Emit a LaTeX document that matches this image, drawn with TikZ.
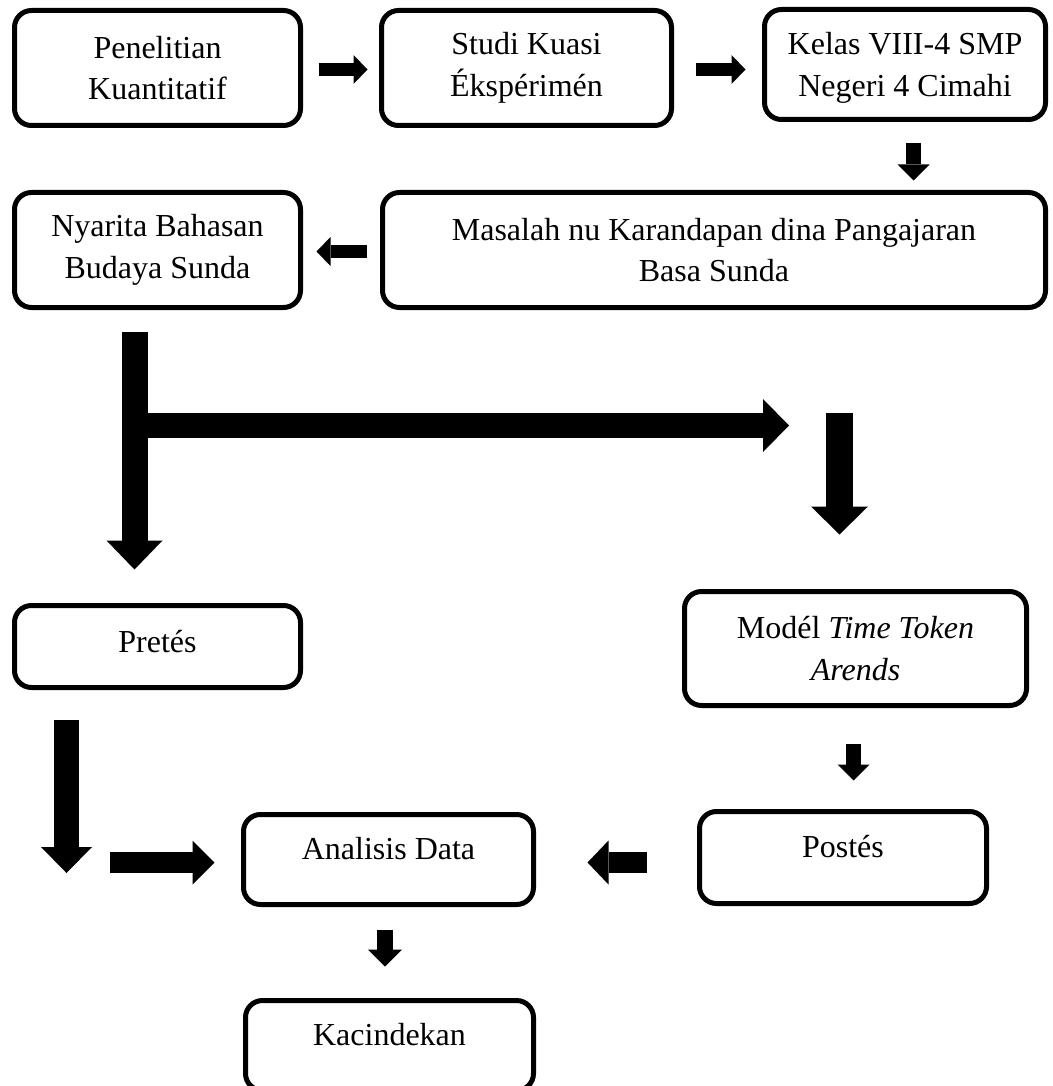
\documentclass[tikz,border=0pt]{standalone}
\usepackage{fontspec}
\setmainfont{Liberation Serif}
\usetikzlibrary{arrows.meta,calc}
\begin{document}
\begin{tikzpicture}[x=1pt,y=-1pt,
  box/.style={draw=black, line width=5pt, rounded corners=17pt, align=center, inner sep=0pt,
              font=\fontsize{32}{41.7}\selectfont},
  one/.style={text height=22pt, text depth=#1},
  ar/.style n args={3}{line width=#1, -{Triangle[width=#2,length=#3,line width=0pt]}},
]
\useasboundingbox (0,0) rectangle (1052,1086);
\clip (0,0) rectangle (1052,1086);
\fill[white] (0,0) rectangle (1052,1086);

% boxes
\node[box, minimum width=286pt, minimum height=115pt] (pen) at (157.5,68) {Penelitian\\Kuantitatif};
\node[box, minimum width=290pt, minimum height=115pt] (stu) at (526.5,68) {Studi Kuasi\\Ékspérimén};
\node[box, text depth=0pt, minimum width=281pt, minimum height=110pt] (kel) at (905,64.5) {Kelas VIII-4 SMP\\Negeri 4 Cimahi};
\node[box, minimum width=286pt, minimum height=115pt] (nya) at (157.5,250) {Nyarita Bahasan\\Budaya Sunda};
\node[box, minimum width=663pt, minimum height=115pt] (mas) at (714,250) {Masalah nu Karandapan dina Pangajaran\\Basa Sunda};
\node[box, one=11pt, minimum width=286pt, minimum height=82pt] (pre) at (157.5,646.5) {Pretés};
\node[box, minimum width=342pt, minimum height=114pt] (mod) at (855.5,648.5) {Modél \textit{Time Token}\\\textit{Arends}};
\node[box, one=23pt, minimum width=290pt, minimum height=90pt] (ana) at (388.5,859.5) {Analisis Data};
\node[box, one=23pt, minimum width=287pt, minimum height=92pt] (pos) at (843,857.5) {Postés};
\node[box, one=23pt, minimum width=288pt, minimum height=90pt] (kac) at (389.5,1045.5) {Kacindekan};

% free ends
\coordinate (hend) at (789,425.5);
\coordinate (vtop) at (839.5,413);
\coordinate (preend) at (66.5,873);
\coordinate (rstart) at (110,862.5);

% connectors
\draw[ar={13pt}{29pt}{14pt}, shorten <=15.5pt, shorten >=11.5pt]
  ([yshift=-1.5pt]pen.east) -- ([yshift=-1.5pt]stu.west);
\draw[ar={13pt}{29pt}{14pt}, shorten <=21.5pt, shorten >=16.5pt]
  ([yshift=-1.5pt]stu.east) -- ([yshift=-1.5pt]stu.east -| kel.west);
\draw[ar={15pt}{32pt}{16pt}, shorten <=21.5pt, shorten >=9.5pt]
  ([xshift=8.5pt]kel.south) -- ([xshift=8.5pt]kel.south |- mas.north);
\draw[ar={13pt}{29pt}{14pt}, shorten <=13.5pt, shorten >=13.5pt]
  ([yshift=-1.5pt]mas.west) -- ([yshift=-1.5pt]nya.east);

\draw[ar={26pt}{56pt}{29pt}, shorten <=21.5pt, shorten >=33.5pt]
  ([xshift=-23pt]nya.south) -- ([xshift=-23pt]nya.south |- pre.north);
\draw[ar={25pt}{53pt}{26pt}]
  ([xshift=-23pt]nya.south |- hend) -- (hend);
\draw[ar={27pt}{57pt}{28pt}, shorten >=54.5pt]
  (vtop) -- (vtop |- mod.north);

\draw[ar={25pt}{51pt}{26pt}, shorten <=29.5pt]
  ([xshift=-91pt]pre.south) -- (preend);
\draw[ar={21pt}{44pt}{22pt}, shorten >=26.5pt]
  (rstart) -- (rstart -| ana.west);
\draw[ar={21pt}{44pt}{21pt}, shorten <=50.5pt, shorten >=51.5pt]
  ([yshift=-5pt]pos.west) -- ([yshift=-5pt]pos.west -| ana.east);
\draw[ar={15pt}{32pt}{16pt}, shorten <=35.5pt, shorten >=28.5pt]
  ([xshift=-2pt]mod.south) -- ([xshift=-2pt]mod.south |- pos.north);
\draw[ar={16pt}{34pt}{17pt}, shorten <=22.5pt, shorten >=31.5pt]
  ([xshift=-3.5pt]ana.south) -- ([xshift=-3.5pt]ana.south |- kac.north);
\end{tikzpicture}
\end{document}
